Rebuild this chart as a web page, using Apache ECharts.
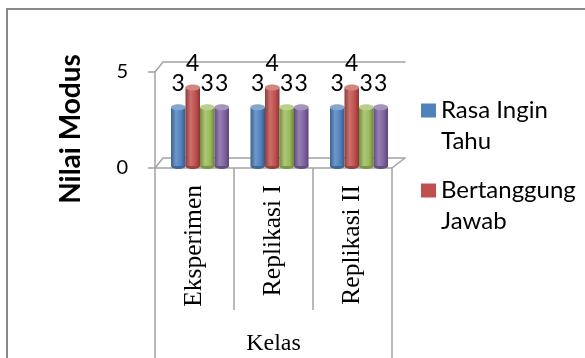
<!DOCTYPE html>
<html>
<head>
<meta charset="utf-8">
<script src="https://cdn.jsdelivr.net/npm/echarts@6/dist/echarts.min.js"></script>
<style>
  html, body { margin: 0; padding: 0; background: #fff; }
  #chart { width: 585px; height: 358px; }
</style>
</head>
<body>
<div id="chart"></div>
<script>
// Kelas categories and the "Nilai Modus" per character aspect
const categories = ['Eksperimen', 'Replikasi I', 'Replikasi II'];
const groupLabel = ['Kelas'];
const seriesNames = ['Rasa Ingin Tahu', 'Bertanggung Jawab', 'Karakter 3', 'Karakter 4'];
const rasaInginTahu = [3, 3, 3];
const bertanggungJawab = [4, 4, 4];
const karakter3 = [3, 3, 3];
const karakter4 = [3, 3, 3];
const yMin = 0;
const yMax = 5;
const yStep = 5;

const seriesValues = [rasaInginTahu, bertanggungJawab, karakter3, karakter4];
const palette = ['#4f81bd', '#c0504d', '#9bbb59', '#8064a2'];
const axisGray = '#a3a3a3';
const calibriLike = 'Lato';
const timesLike = 'Liberation Serif';

// lighten (f > 0) or darken (f < 0) a hex colour
function shade(hex, f) {
  const n = parseInt(hex.slice(1), 16);
  const ch = [n >> 16, (n >> 8) & 255, n & 255].map(c =>
    f < 0 ? Math.round(c * (1 + f)) : Math.round(c + (255 - c) * f));
  return 'rgb(' + ch.join(',') + ')';
}

// one shaded cylinder per data item, with its value printed above it
function cylinder(s) {
  const base = palette[s];
  return function (params, api) {
    const cat = api.value(0);
    const v = api.value(1);
    const top = api.coord([cat, v]);
    const bottom = api.coord([cat, 0]);
    const band = api.size([1, 0])[0];
    const w = band * 0.1825;
    const cx = top[0] + (s - 1.5) * w;
    const ry = 3;
    const body = new echarts.graphic.LinearGradient(0, 0, 1, 0, [
      { offset: 0, color: shade(base, -0.25) },
      { offset: 0.35, color: shade(base, 0.18) },
      { offset: 0.7, color: base },
      { offset: 1, color: shade(base, -0.3) }
    ]);
    return {
      type: 'group',
      children: [
        { type: 'ellipse', shape: { cx: cx, cy: bottom[1], rx: w / 2, ry: ry },
          style: { fill: shade(base, -0.2) } },
        { type: 'rect', shape: { x: cx - w / 2, y: top[1], width: w, height: bottom[1] - top[1] },
          style: { fill: body } },
        { type: 'ellipse', shape: { cx: cx, cy: top[1], rx: w / 2, ry: ry },
          style: { fill: shade(base, 0.3) } },
        { type: 'text', z2: 10,
          style: { text: String(v), x: cx, y: top[1] - 24, align: 'center', verticalAlign: 'middle',
                   textAlign: 'center', textVerticalAlign: 'middle',
                   fontFamily: calibriLike, fontSize: 23, fill: '#000' } }
      ]
    };
  };
}

// legend text: blank first line (keeps the marker level with the name),
// then the name wrapped at its last space
function legendText(name) {
  const i = name.lastIndexOf(' ');
  return '\n' + name.slice(0, i) + '\n' + name.slice(i + 1);
}

const chart = echarts.init(document.getElementById('chart'), null, { renderer: 'canvas' });

const lineStyle = { color: axisGray, width: 1.5 };

chart.setOption({
  animation: false,
  backgroundColor: '#fff',
  grid: [
    { left: 155, top: 72, width: 237, height: 96 },      // front edges + labels
    { left: 163, top: 62, width: 242, height: 96 },      // back wall
    { left: 160.25, top: 68, width: 238.5, height: 98 }  // cylinders
  ],
  xAxis: [
    { gridIndex: 0, type: 'category', data: categories, position: 'bottom',
      axisLine: { show: true, lineStyle: lineStyle },
      axisTick: { show: true, interval: 0, length: 142, lineStyle: lineStyle },
      axisLabel: { interval: 0, rotate: 90, margin: 17, color: '#000',
                   fontFamily: timesLike, fontSize: 25.5 } },
    { gridIndex: 0, type: 'category', data: groupLabel, position: 'bottom', offset: 142,
      axisLine: { show: true, lineStyle: { color: axisGray, width: 1.5, opacity: 0 } },
      axisTick: { show: true, length: 50, lineStyle: { color: axisGray, width: 1.5, opacity: 1 } },
      axisLabel: { margin: 22, color: '#000', fontFamily: timesLike, fontSize: 24 } },
    { gridIndex: 1, type: 'category', data: categories, position: 'bottom',
      axisLine: { show: true, lineStyle: lineStyle }, axisTick: { show: false }, axisLabel: { show: false } },
    { gridIndex: 1, type: 'category', data: categories, position: 'top',
      axisLine: { show: true, lineStyle: lineStyle }, axisTick: { show: false }, axisLabel: { show: false } },
    { gridIndex: 2, type: 'category', data: categories, show: false }
  ],
  yAxis: [
    { gridIndex: 0, type: 'value', min: yMin, max: yMax, interval: yStep,
      name: 'Nilai Modus', nameLocation: 'middle', nameRotate: 90, nameGap: 70,
      nameTextStyle: { fontFamily: calibriLike, fontWeight: 'bold', fontSize: 28, color: '#000',
                       padding: [0, 18, 0, 0] },
      axisLine: { show: true, lineStyle: lineStyle },
      axisTick: { show: true, length: 7, lineStyle: lineStyle },
      axisLabel: { margin: 27, color: '#000', fontFamily: calibriLike, fontSize: 20 },
      splitLine: { show: false } },
    { gridIndex: 1, type: 'value', min: yMin, max: yMax, show: false, splitLine: { show: false } },
    { gridIndex: 2, type: 'value', min: yMin, max: yMax, show: false, splitLine: { show: false } }
  ],
  legend: {
    data: seriesNames.slice(0, 2),
    orient: 'vertical', left: 421, top: 64, padding: 0, itemGap: -13,
    icon: 'rect', itemWidth: 15, itemHeight: 14,
    selectedMode: false,
    formatter: legendText,
    textStyle: { fontFamily: calibriLike, fontSize: 24, color: '#000', lineHeight: 31 }
  },
  graphic: [
    { type: 'rect', shape: { x: 7, y: 9, width: 640, height: 420 }, silent: true,
      style: { fill: 'none', stroke: '#898989', lineWidth: 2 } },
    { type: 'line', shape: { x1: 155, y1: 72, x2: 163, y2: 62 }, style: { stroke: axisGray, lineWidth: 1.5 } },
    { type: 'line', shape: { x1: 155, y1: 168, x2: 163, y2: 158 }, style: { stroke: axisGray, lineWidth: 1.5 } },
    { type: 'line', shape: { x1: 392, y1: 168, x2: 405, y2: 158 }, style: { stroke: axisGray, lineWidth: 1.5 } }
  ],
  series: seriesValues.map((vals, s) => ({
    type: 'custom',
    name: seriesNames[s],
    xAxisIndex: 4,
    yAxisIndex: 2,
    itemStyle: { color: palette[s] },
    encode: { x: 0, y: 1 },
    renderItem: cylinder(s),
    data: vals.map((v, i) => [i, v])
  }))
});
</script>
</body>
</html>
